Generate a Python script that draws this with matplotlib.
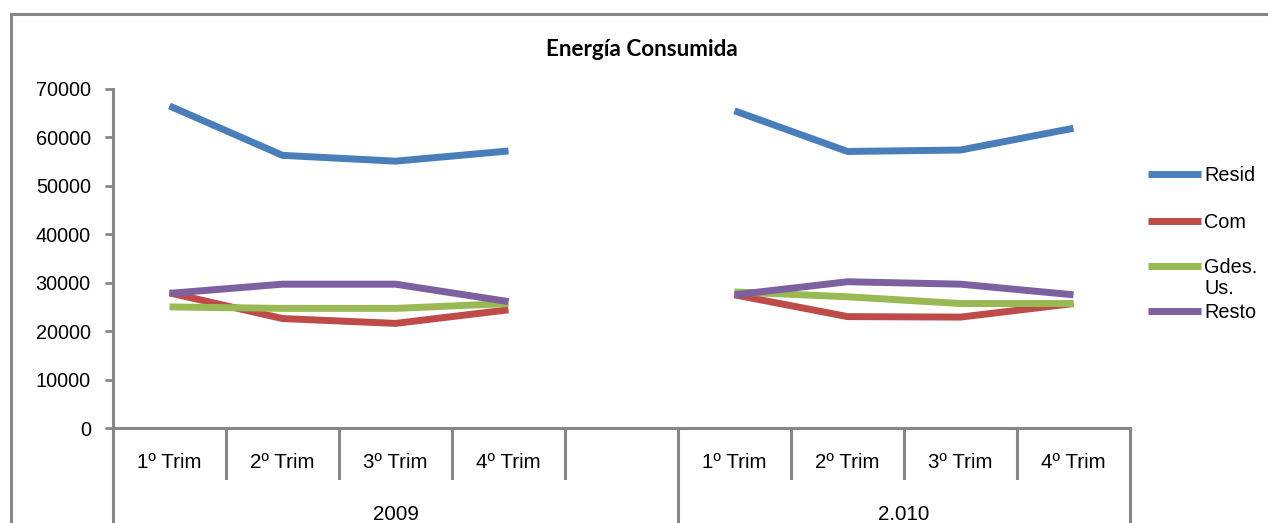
import numpy as np
import matplotlib.pyplot as plt
from matplotlib.lines import Line2D
import matplotlib.transforms as mtransforms

trims = ["1º Trim", "2º Trim", "3º Trim", "4º Trim", "", "1º Trim", "2º Trim", "3º Trim", "4º Trim"]
years = ["2009", "2.010"]
year_span = [(0, 4), (5, 8)]  # category index ranges for each year

nan = np.nan
resid = [66500, 56300, 55100, 57200, nan, 65500, 57100, 57400, 61900]
com = [27900, 22600, 21600, 24400, nan, 27500, 23000, 22900, 25700]
gdes = [25000, 24700, 24700, 25700, nan, 28100, 27100, 25700, 25700]
resto = [27800, 29700, 29700, 26100, nan, 27500, 30200, 29700, 27500]

names = ["Resid", "Com", "Gdes.\nUs.", "Resto"]
colors = ["#4A7EBB", "#BE4B48", "#98B954", "#7D60A0"]

W, H = 1268, 523
plt.rcParams["font.family"] = ["Liberation Sans", "DejaVu Sans"]
fig = plt.figure(figsize=(W / 100, H / 100), dpi=100)
ax = fig.add_axes([113 / W, 1 - 428 / H, (1130 - 113) / W, (428 - 89) / H])

x = np.arange(len(trims))
for vals, c in zip([resid, com, gdes, resto], colors):
    ax.plot(x, vals, color=c, lw=5, solid_capstyle="butt", solid_joinstyle="round")

grey = "#868686"
ax.set_xlim(-0.5, len(trims) - 0.5)
ax.set_ylim(0, 70000)
ax.set_yticks(range(0, 70001, 10000))
ax.tick_params(axis="y", direction="out", length=6, width=2, color=grey, labelsize=14.3, pad=10)
ax.set_xticks([])
for s in ["top", "right"]:
    ax.spines[s].set_visible(False)
for s in ["left", "bottom"]:
    ax.spines[s].set_color(grey)
    ax.spines[s].set_linewidth(2.2)

# category axis: separators and labels
trans = mtransforms.blended_transform_factory(ax.transData, fig.transFigure)
short_bot = 1 - 478 / H
for i in range(len(trims) + 1):
    xb = i - 0.5
    tall = xb in (-0.5, 4.5, len(trims) - 0.5)
    ax.add_line(Line2D([xb, xb], [1 - 428 / H, 0 if tall else short_bot], transform=trans,
                       color=grey, lw=2.2, clip_on=False))
for i, t in enumerate(trims):
    ax.text(i, 1 - 462 / H, t, transform=trans, ha="center", va="center", fontsize=14.8)
for (a, b), y in zip(year_span, years):
    mid = (a - 0.5 + b + 0.5) / 2
    ax.text(mid, 1 - 515 / H, y, transform=trans, ha="center", va="center", fontsize=14.8)

fig.text(642 / W, 1 - 50 / H, "Energía Consumida", ha="center", va="center",
         fontsize=16.2, fontweight="bold", family=["Lato", "DejaVu Sans"])

# legend
leg_y = [174, 221, 266, 311]
for name, c, yy in zip(names, colors, leg_y):
    fig.add_artist(Line2D([1148 / W, 1201 / W], [1 - yy / H, 1 - yy / H], color=c, lw=5,
                          solid_capstyle="butt"))
    fig.text(1204 / W, 1 - (yy - 8) / H, name, ha="left", va="top", fontsize=14.3, linespacing=1.12)

# outer chart border
fig.add_artist(Line2D([11 / W, 11 / W], [0, 1 - 14 / H], color=grey, lw=2.2))
fig.add_artist(Line2D([11 / W, 1], [1 - 14 / H, 1 - 14 / H], color=grey, lw=2.2))

fig.savefig("out.png", dpi=100)
